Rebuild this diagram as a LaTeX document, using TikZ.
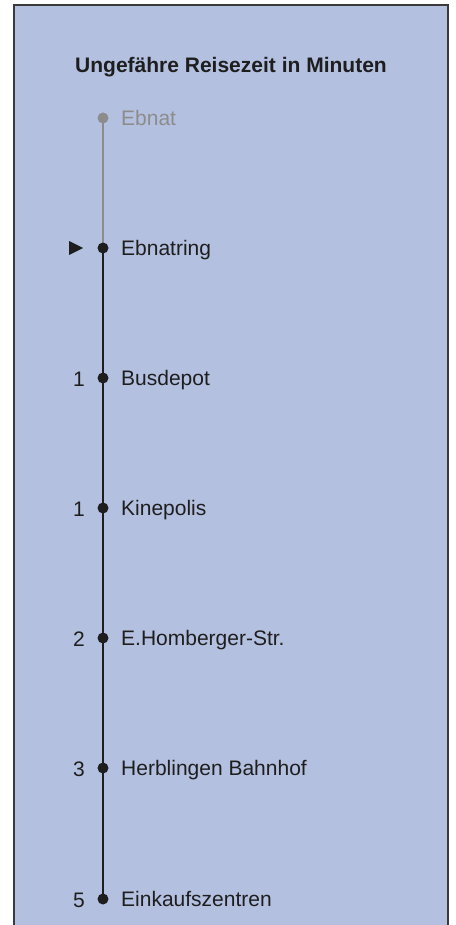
\documentclass[tikz,border=0pt]{standalone}
\usepackage{fontspec}
\setmainfont{Liberation Sans}
\usetikzlibrary{backgrounds}
\definecolor{bg}{HTML}{B4C0E0}
\definecolor{grayline}{HTML}{8C8C8C}
\definecolor{ink}{HTML}{1E1E1E}
\definecolor{frame}{HTML}{3A3A3A}
\begin{document}
\begin{tikzpicture}[x=1pt,y=-1pt,
  stopdot/.style={circle,fill=ink,inner sep=0pt,minimum size=11pt},
  graydot/.style={circle,fill=grayline,inner sep=0pt,minimum size=11pt},
  lbl/.style={anchor=base west,inner sep=0pt,font=\fontsize{21}{24}\selectfont,text=ink},
  num/.style={anchor=base east,inner sep=0pt,font=\fontsize{21}{24}\selectfont,text=ink},
  route/.style={line width=2.2pt,ink}]
\useasboundingbox (0,0) rectangle (455,925);
% stops
\node[graydot] (s0) at (103,118) {};
\node[stopdot] (s1) at (103,248) {};
\node[stopdot] (s2) at (103,378) {};
\node[stopdot] (s3) at (103,508) {};
\node[stopdot] (s4) at (103,638) {};
\node[stopdot] (s5) at (103,768) {};
\node[stopdot] (s6) at (103,899) {};
\begin{scope}[on background layer]
\fill[bg] (14,5) rectangle (448,925);
\draw[frame,line width=1.2pt] (14,925) -- (14,5) -- (448,5) -- (448,925);
\draw[line width=2.2pt,grayline] (s0.center) -- (s1.center);
\draw[route] (s1.center) -- (s6.center);
\end{scope}
\node[anchor=base,inner sep=0pt,font=\bfseries\fontsize{21}{24}\selectfont,text=ink] (title) at (231,73) {Ungefähre Reisezeit in Minuten};
% labels
\node[lbl,text=grayline] (l0) at (121,125.5) {Ebnat};
\node[lbl] (l1) at (121,255.5) {Ebnatring};
\node[lbl] (l2) at (121,385.5) {Busdepot};
\node[lbl] (l3) at (121,515.5) {Kinepolis};
\node[lbl] (l4) at (121,645.5) {E.Homberger-Str.};
\node[lbl] (l5) at (121,775.5) {Herblingen Bahnhof};
\node[lbl] (l6) at (121,906.5) {Einkaufszentren};
% numbers
\node[num] (n2) at (85,386) {1};
\node[num] (n3) at (85,516) {1};
\node[num] (n4) at (85,646) {2};
\node[num] (n5) at (85,776) {3};
\node[num] (n6) at (85,907) {5};
% current stop marker
\fill[ink] (69,241) -- (83,248) -- (69,255) -- cycle;
\end{tikzpicture}
\end{document}
